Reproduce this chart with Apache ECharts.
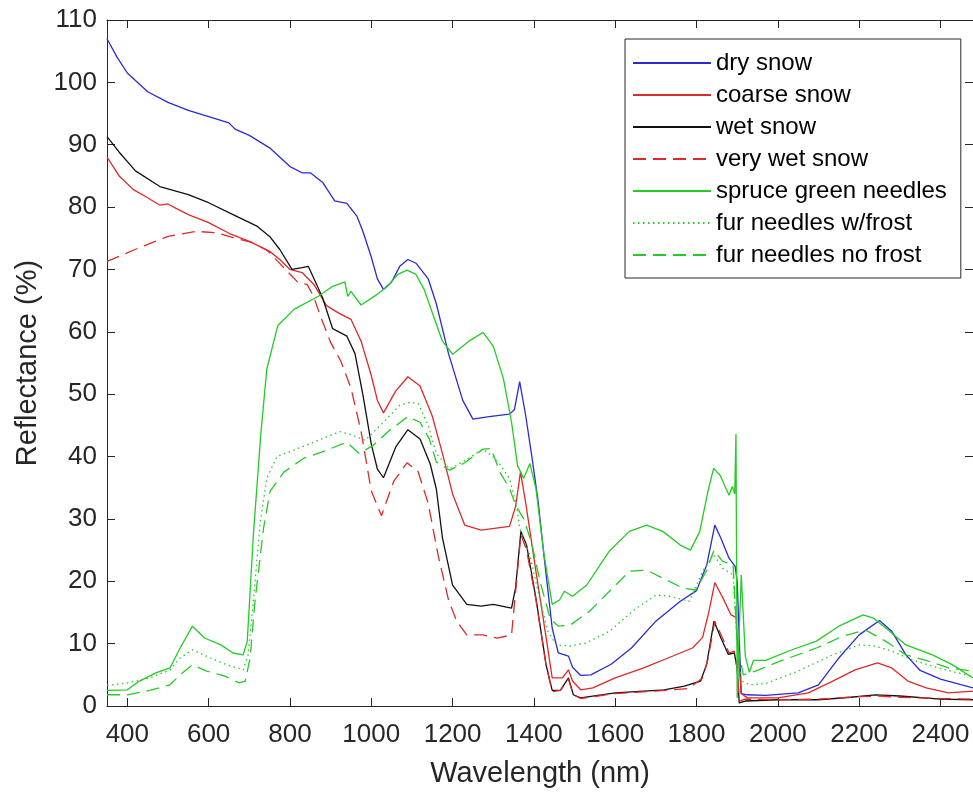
<!DOCTYPE html>
<html><head><meta charset="utf-8">
<script src="https://cdn.jsdelivr.net/npm/echarts@6/dist/echarts.min.js"></script>
<style>html,body{margin:0;padding:0;background:#fff}#c{width:973px;height:793px}</style>
</head><body><div id="c"></div><script>
const xTickValues = [400,600,800,1000,1200,1400,1600,1800,2000,2200,2400];

const dryWl  = [350,375,400,450,500,550,600,650,665,700,750,800,830,850,880,910,940,965,980,1000,1015,1030,1050,1070,1090,1110,1140,1160,1190,1225,1250,1290,1340,1352,1365,1380,1395,1410,1425,1445,1460,1485,1495,1515,1540,1590,1640,1700,1760,1800,1825,1845,1860,1880,1895,1900,1910,1925,1970,2050,2100,2150,2200,2250,2280,2315,2350,2400,2480];
const dryVal = [107,104,101.5,98.5,96.8,95.5,94.5,93.5,92.5,91.5,89.5,86.5,85.5,85.5,84,81,80.6,78.5,76,72,68.5,66.8,68,70.5,71.6,71,68.5,64.5,56.5,49,46,46.4,46.8,47.5,52,46.5,40,33,24,12.5,8.5,8,6.2,4.9,5,6.7,9.3,13.6,16.8,18.5,22.6,29,26.9,23.7,22.4,20,2,1.8,1.7,2.1,3.4,7.7,11.4,13.7,12,8.2,5.7,4.3,2.9];

const coarseWl  = [350,380,415,450,480,500,520,550,600,650,700,750,775,800,830,860,890,920,950,975,1000,1015,1030,1060,1090,1120,1150,1175,1200,1230,1270,1340,1355,1367,1380,1405,1430,1445,1470,1485,1495,1515,1545,1600,1670,1730,1790,1815,1830,1845,1865,1885,1897,1903,1910,1925,2000,2075,2135,2190,2245,2280,2320,2365,2420,2480];
const coarseVal = [88,85,82.8,81.5,80.3,80.5,79.8,78.8,77.5,75.8,74.5,72.9,71.6,70,69.5,67.5,64.2,63,62,58.5,53,49,47,50.5,52.8,51.3,46.5,40.5,34,29,28.2,28.8,32,37.5,32.5,21.6,11,4.5,4.5,5.8,4,2.6,2.9,4.5,6.1,7.7,9.3,11,15,19.8,17.3,14.6,14.2,8,2,1.3,1.3,2.1,4,5.8,6.9,6.1,4,2.9,2.1,2.4];

const wetWl  = [350,380,420,480,550,600,660,720,750,775,805,830,845,860,880,905,940,960,980,1000,1015,1030,1060,1090,1120,1145,1160,1175,1200,1235,1270,1300,1345,1355,1368,1382,1405,1430,1445,1465,1485,1497,1515,1600,1720,1770,1810,1825,1843,1860,1878,1893,1900,1905,1920,2000,2100,2180,2240,2300,2400,2480];
const wetVal = [91.3,88.8,85.8,83.3,82,80.7,78.8,76.9,75.3,73.2,70,70.3,70.5,68.4,65.5,60.5,59.3,56.5,49.7,42,38,36.6,41.5,44.3,42.8,38.8,34.8,27,19.4,16.3,16,16.3,15.7,19,28,25.8,17.3,6.6,2.5,2.5,4.5,1.8,1.3,2.1,2.6,3.2,4,6.7,13.6,10.9,8.3,8.5,6,0.5,0.8,1,1,1.4,1.8,1.6,1.1,1.0];

const veryWetWl  = [350,430,500,570,620,660,710,745,770,795,820,842,858,875,900,925,950,975,1000,1025,1055,1088,1115,1140,1165,1190,1210,1235,1275,1310,1345,1352,1368,1382,1405,1430,1445,1465,1485,1497,1515,1600,1700,1780,1815,1828,1845,1862,1880,1893,1900,1905,1920,2000,2100,2200,2250,2300,2400,2480];
const veryWetVal = [71.3,73.5,75.3,76.1,75.9,75.1,74.3,73,71.3,69.6,67.9,67.6,65.7,62.5,58.3,55.3,51,44,34.5,30.5,36,39,37.6,32.5,24,17,13.6,11.4,11.4,10.9,11.4,16.3,27.5,25,17,6.5,2.3,2.5,4.3,1.8,1.2,2,2.4,2.8,4.5,7.5,13.6,11.2,8.5,8.8,6,0.8,1.1,1.0,1.1,1.5,1.6,1.4,1.2,1.1];

const spruceWl  = [350,400,430,470,505,530,560,590,630,660,685,695,710,728,743,770,810,870,905,935,942,950,975,1010,1040,1065,1088,1110,1130,1150,1175,1200,1240,1275,1300,1325,1345,1360,1375,1390,1405,1425,1445,1463,1475,1495,1530,1585,1635,1677,1717,1760,1785,1808,1828,1842,1858,1880,1888,1894,1897,1900,1905,1910,1920,1930,1940,1970,2030,2095,2150,2210,2235,2275,2315,2380,2430,2480];
const spruceVal = [2.5,2.6,4,5.3,6.1,9.3,12.8,10.9,9.8,8.5,8.2,10.4,27.4,43.4,54,61,63.6,65.7,67.3,68,65.7,66.5,64.3,65.8,67.3,69.2,69.9,69.2,66.8,63.1,58.5,56.4,58.5,59.9,57.7,52.5,45.5,38.5,36.5,38.9,34.9,24.2,16.3,17,18.4,17.6,19.4,24.8,28,29,28,25.8,25,28,34.4,38.1,37,33.8,35.2,34,43.6,1.3,12,21,8,5.4,7.3,7.3,8.9,10.4,12.8,14.6,14.1,12,9.8,8.2,6.6,4.5];

const frostWl  = [350,400,455,505,530,560,605,645,685,697,710,727,743,768,808,866,923,955,985,1030,1070,1095,1115,1140,1160,1193,1226,1275,1308,1340,1357,1365,1390,1414,1434,1455,1487,1528,1586,1652,1701,1733,1782,1815,1842,1864,1890,1900,1910,1930,1970,2050,2135,2200,2240,2280,2330,2395,2480];
const frostVal = [3.3,3.7,4.5,5.8,7.7,9,7.7,6.6,5.8,8.2,16.8,29.6,36.5,40,41,42.5,44,43.4,42.6,45.5,48.2,48.7,48.5,45,40.5,38,39.2,41.2,39.5,36.5,32.2,28.5,24.2,17.3,12,9.8,9.6,10.1,12,15.7,17.8,17.6,16.8,21.6,24.3,22.1,21,10,4,3.4,3.6,5.6,8.2,9.8,9.6,8.8,7.4,6.1,4.7];

const noFrostWl  = [350,400,455,505,530,560,595,640,675,690,702,714,735,751,785,833,890,940,970,1005,1045,1090,1120,1143,1160,1193,1230,1275,1295,1316,1340,1355,1375,1395,1415,1440,1460,1490,1537,1586,1635,1677,1717,1766,1798,1824,1843,1864,1890,1900,1915,1945,2010,2095,2160,2215,2265,2315,2365,2420,2480];
const noFrostVal = [1.8,1.8,2.5,3.4,5,6.6,5.6,4.8,3.7,4,7.7,16.8,28.5,34.4,37.5,39.7,41,42.3,40.5,41.8,44.2,46.4,45.5,42.8,39.1,37.8,39,41.2,41.3,37.5,34.9,32.2,30,26,20,14,12.8,13,15.2,18.4,21.6,21.8,20.5,18.9,18.6,21.6,25,23.2,22.7,10,5,5.6,7.3,9.3,11.2,12.2,10.4,8.2,7.3,6.1,5.6];

const seriesNames = ['dry snow','coarse snow','wet snow','very wet snow','spruce green needles','fur needles w/frost','fur needles no frost'];

const FONT = "'Liberation Sans', Arial, Helvetica, sans-serif";
const AX = '#262626';
const pairs = (w, v) => w.map((x, i) => [x, v[i]]);

const defs = [
  {wl: dryWl, val: dryVal, color: '#2a2ad8', type: 'solid'},
  {wl: coarseWl, val: coarseVal, color: '#e02828', type: 'solid'},
  {wl: wetWl, val: wetVal, color: '#111111', type: 'solid'},
  {wl: veryWetWl, val: veryWetVal, color: '#e02828', type: [13, 7]},
  {wl: spruceWl, val: spruceVal, color: '#22cc22', type: 'solid'},
  {wl: frostWl, val: frostVal, color: '#22cc22', type: [1.5, 3.5]},
  {wl: noFrostWl, val: noFrostVal, color: '#22cc22', type: [13, 7]}
];

const chart = echarts.init(document.getElementById('c'), null, {renderer: 'canvas'});
chart.setOption({
  animation: false,
  backgroundColor: '#fff',
  grid: {left: 107, right: -1.4, top: 20, bottom: 85, containLabel: false},
  legend: {
    orient: 'vertical', left: 625, top: 39,
    itemWidth: 78, itemHeight: 14, itemGap: 8,
    padding: [12, 14, 11, 7],
    borderColor: AX, borderWidth: 1, backgroundColor: '#fff',
    itemStyle: {opacity: 0, color: 'rgba(0,0,0,0)', borderWidth: 0},
    textStyle: {fontSize: 24, color: '#000', fontFamily: FONT},
    data: seriesNames
  },
  xAxis: [{
    type: 'value', min: 350, max: 2480, position: 'bottom',
    name: 'Wavelength (nm)', nameLocation: 'middle', nameGap: 53,
    nameTextStyle: {fontSize: 29, color: AX, fontFamily: FONT},
    axisLine: {show: true, onZero: false, lineStyle: {color: AX, width: 1}},
    axisTick: {show: true, inside: true, length: 8, customValues: xTickValues, lineStyle: {color: AX}},
    axisLabel: {show: true, margin: 16, fontSize: 26, color: AX, fontFamily: FONT, customValues: xTickValues, formatter: v => String(v)},
    splitLine: {show: false}
  }, {
    type: 'value', min: 350, max: 2480, position: 'top',
    axisLine: {show: true, onZero: false, lineStyle: {color: AX, width: 1}},
    axisTick: {show: true, inside: true, length: 8, customValues: xTickValues, lineStyle: {color: AX}},
    axisLabel: {show: false},
    splitLine: {show: false}
  }],
  yAxis: [{
    type: 'value', min: 0, max: 110, interval: 10, position: 'left',
    name: 'Reflectance (%)', nameLocation: 'middle', nameGap: 64, nameRotate: 90,
    nameTextStyle: {fontSize: 29, color: AX, fontFamily: FONT},
    axisLine: {show: true, onZero: false, lineStyle: {color: AX, width: 1}},
    axisTick: {show: true, inside: true, length: 8, lineStyle: {color: AX}},
    axisLabel: {show: true, margin: 10, fontSize: 26, color: AX, fontFamily: FONT},
    splitLine: {show: false}
  }, {
    type: 'value', min: 0, max: 110, interval: 10, position: 'right',
    axisLine: {show: true, onZero: false, lineStyle: {color: AX, width: 1}},
    axisTick: {show: true, inside: true, length: 8, lineStyle: {color: AX}},
    axisLabel: {show: false},
    splitLine: {show: false}
  }],
  series: defs.map((d, i) => ({
    name: seriesNames[i], type: 'line', xAxisIndex: 0, yAxisIndex: 0,
    data: pairs(d.wl, d.val),
    symbol: 'none', showSymbol: false, smooth: false,
    lineStyle: {color: d.color, width: 1.3, type: d.type},
    itemStyle: {color: d.color},
    clip: true
  }))
});
</script></body></html>
